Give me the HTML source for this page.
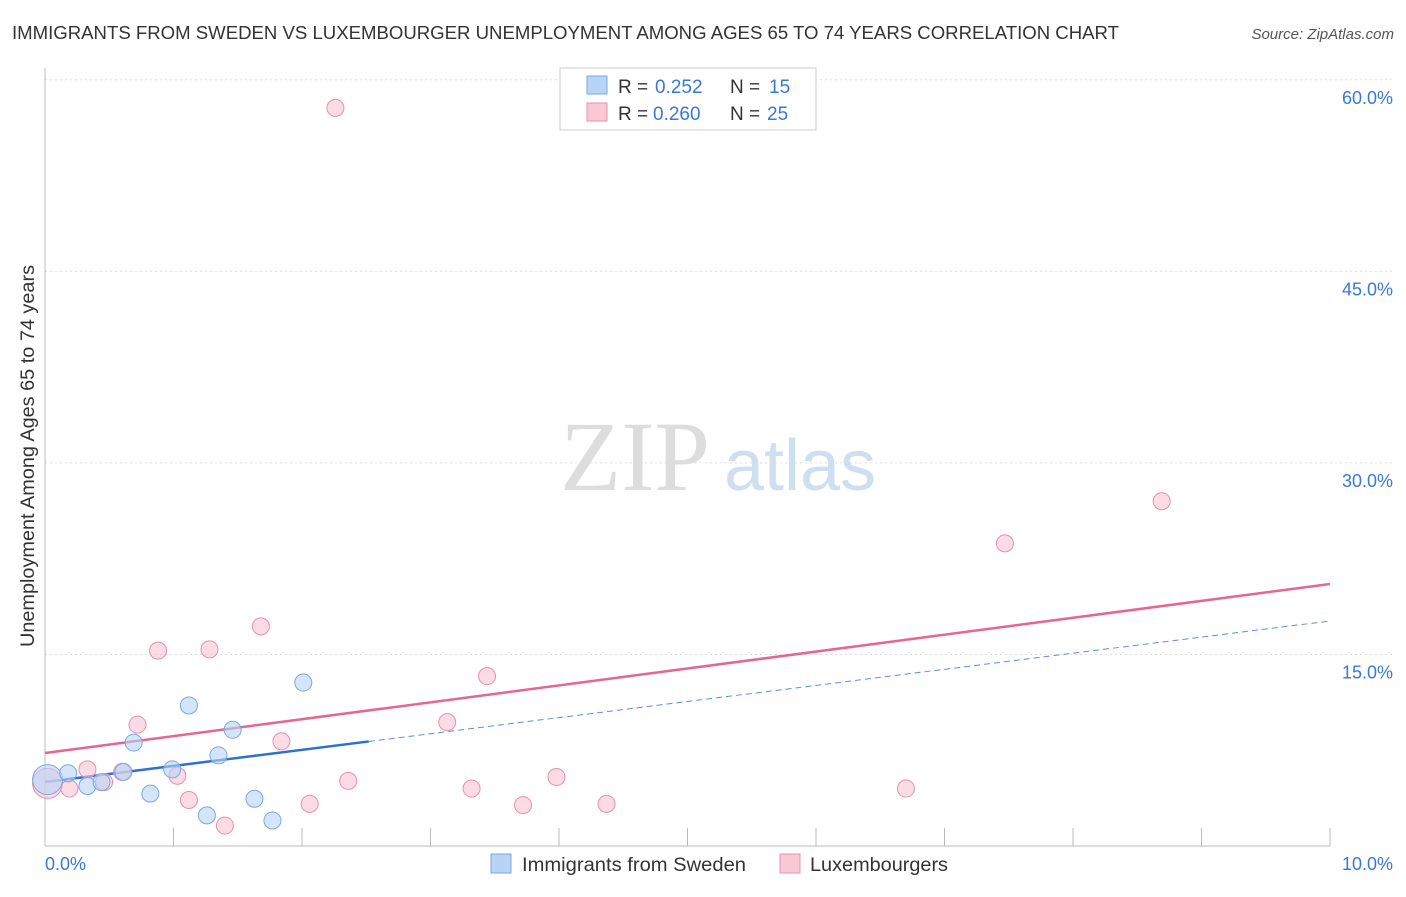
<!DOCTYPE html>
<html><head><meta charset="utf-8"><style>
body{margin:0;background:#fff;font-family:"Liberation Sans",sans-serif;}
svg text{font-family:"Liberation Sans",sans-serif;}
</style></head><body>
<svg id="chart" width="1406" height="892" xmlns="http://www.w3.org/2000/svg">
<text x="12" y="39" font-size="18" fill="#333" textLength="1107" lengthAdjust="spacingAndGlyphs">IMMIGRANTS FROM SWEDEN VS LUXEMBOURGER UNEMPLOYMENT AMONG AGES 65 TO 74 YEARS CORRELATION CHART</text>
<text x="1394" y="39" font-size="15" fill="#555" text-anchor="end" font-style="italic">Source: ZipAtlas.com</text>
<g>
<text x="635" y="490" font-size="100" fill="#ddd" text-anchor="middle" style="font-family:'Liberation Serif',serif">ZIP</text>
<text x="800" y="490" font-size="72" fill="#cfdff2" text-anchor="middle">atlas</text>
</g>
<text transform="translate(34,456) rotate(-90)" font-size="19" fill="#333" text-anchor="middle" textLength="382" lengthAdjust="spacingAndGlyphs">Unemployment Among Ages 65 to 74 years</text>
<g id="grid"></g><g id="axes"></g><g id="lines"></g><g id="pts"></g>
<g>
<rect x="560" y="68" width="256" height="62" fill="#fff" stroke="#ccc"/>
<rect x="587" y="76" width="20" height="18" fill="#b8d3f5" stroke="#7aa8e0"/>
<text x="618" y="93" font-size="19" fill="#333" xml:space="preserve">R = <tspan x="655" fill="#3a78d8">0.252</tspan><tspan x="730">N =</tspan><tspan x="769" fill="#3a78d8">15</tspan></text>
<rect x="587" y="103" width="20" height="18" fill="#f8c8d6" stroke="#e890ab"/>
<text x="618" y="120" font-size="19" fill="#333">R = <tspan x="653" fill="#3a78d8">0.260</tspan><tspan x="730">N =</tspan><tspan x="767" fill="#3a78d8">25</tspan></text>
</g>
<g>
<rect x="491" y="854" width="20" height="19" fill="#b8d3f5" stroke="#7aa8e0"/>
<text x="522" y="871" font-size="19" fill="#333" textLength="224" lengthAdjust="spacingAndGlyphs">Immigrants from Sweden</text>
<rect x="780" y="854" width="20" height="19" fill="#f8c8d6" stroke="#e890ab"/>
<text x="810" y="871" font-size="19" fill="#333" textLength="138" lengthAdjust="spacingAndGlyphs">Luxembourgers</text>
</g>
</svg>
<script>
const yTicks=[15,30,45,60];
const yTickLabels=["15.0%","30.0%","45.0%","60.0%"];
const blueX=[0.02,0.18,0.33,0.44,0.61,0.69,0.82,0.99,1.12,1.26,1.35,1.46,1.63,1.77,2.01];
const blueY=[5.2,5.7,4.7,5.0,5.8,8.1,4.1,6.0,11.0,2.4,7.1,9.1,3.7,2.0,12.8];
const pinkX=[0.02,0.19,0.33,0.46,0.6,0.72,0.88,1.03,1.12,1.28,1.4,1.68,1.84,2.06,2.26,2.36,3.13,3.32,3.44,3.72,3.98,4.37,6.7,7.47,8.69];
const pinkY=[4.9,4.5,6.0,5.0,5.8,9.5,15.3,5.5,3.6,15.4,1.6,17.2,8.2,3.3,57.8,5.1,9.7,4.5,13.3,3.2,5.4,3.3,4.5,23.7,27.0];
const blueLine=[5.01,17.62], pinkLine=[7.28,20.52];
const X=v=>45+v*128.5, Y=v=>846-v*12.77;
const NS="http://www.w3.org/2000/svg";
function mk(p,t,a){const e=document.createElementNS(NS,t);for(const k in a)e.setAttribute(k,a[k]);p.appendChild(e);return e;}
const grid=document.getElementById('grid'),axes=document.getElementById('axes'),lines=document.getElementById('lines'),pts=document.getElementById('pts');
yTicks.forEach((t,i)=>{
 const l=mk(grid,'line',{x1:45,x2:1393,y1:Y(t),y2:Y(t),stroke:'#ddd','stroke-dasharray':'2,3'});
 
 
 const tx=mk(axes,'text',{x:1393,y:Y(t)+24,'font-size':18,fill:'#3a78d8','text-anchor':'end'});tx.textContent=yTickLabels[i];
 
 
});
const ya=mk(axes,'line',{x1:45,x2:45,y1:68,y2:846,stroke:'#bbb'});


const xa=mk(axes,'line',{x1:45,x2:1330,y1:846,y2:846,stroke:'#bbb'});


for(let i=0;i<=10;i++){const t=mk(axes,'line',{x1:X(i),x2:X(i),y1:846,y2:828,stroke:'#bbb'});
 
 }
[[0,"0.0%",'start',45],[10,"10.0%",'end',1393]].forEach(a=>{const t=mk(axes,'text',{x:a[3],y:870,'font-size':18,fill:'#3a78d8','text-anchor':a[2]});t.textContent=a[1];
 
 });
function drawPts(xs,ys,fill,stroke,name){xs.forEach((x,i)=>{const r=i==0?15:8.5;
 const c=mk(pts,'circle',{cx:X(x),cy:Y(ys[i]),r:r,fill:fill,'fill-opacity':0.6,stroke:stroke,'stroke-width':1});
 
 });}
drawPts(pinkX,pinkY,'#f8c4d4','#e890ab','luxembourger-point');
drawPts(blueX,blueY,'#b8d3f5','#7aa8e0','sweden-point');
const bm=2.52,by=blueLine[0]+(blueLine[1]-blueLine[0])*bm/10;
const b1=mk(lines,'line',{x1:X(0),y1:Y(blueLine[0]),x2:X(bm),y2:Y(by),stroke:'#2c6fd6','stroke-width':2.5});


const b2=mk(lines,'line',{x1:X(bm),y1:Y(by),x2:X(10),y2:Y(blueLine[1]),stroke:'#5a8fe0','stroke-width':1,'stroke-dasharray':'6,4'});


const p1=mk(lines,'line',{x1:X(0),y1:Y(pinkLine[0]),x2:X(10),y2:Y(pinkLine[1]),stroke:'#e8658f','stroke-width':2.5});


</script>
</body></html>
